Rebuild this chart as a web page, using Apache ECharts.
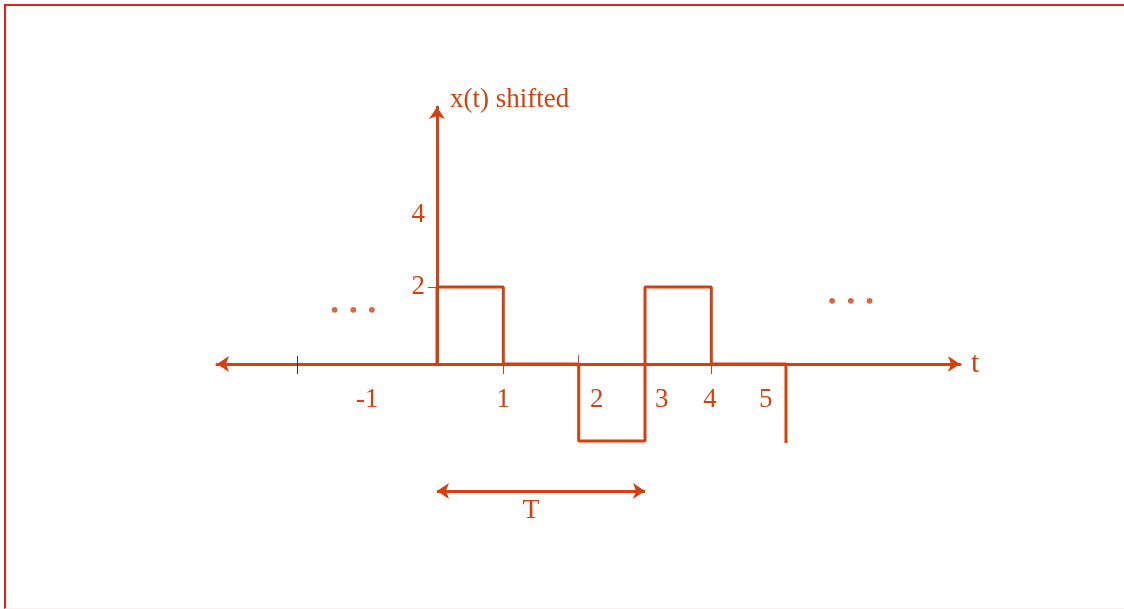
<!DOCTYPE html>
<html>
<head>
<meta charset="utf-8">
<script src="https://cdn.jsdelivr.net/npm/echarts@6/dist/echarts.min.js"></script>
<style>
html,body{margin:0;padding:0;background:#fff;}
#frame{position:absolute;left:4px;top:4px;width:1120px;height:605px;box-sizing:border-box;
  border-top:2px solid #f01818;border-left:2px solid #f01818;border-bottom:1px solid #fdeef0;}
#chart{position:absolute;left:0;top:0;width:1124px;height:609px;}
</style>
</head>
<body>
<div id="frame"></div>
<div id="chart"></div>
<script>
// signal x(t) shifted (t units, amplitude units)
const signalT = [0, 0, 0.95, 0.95, 2.03, 2.03, 2.98, 2.98, 3.93, 3.93, 5.0, 5.0];
const signalX = [0, 2, 2, 0, 0, -2, -2, 2, 2, 0, 0, -2.05];

// tick labels as drawn (label position on t axis, text)
const xLabelPos = [-1.0, 0.95, 2.29, 3.22, 3.91, 4.71];
const xLabelText = ['-1', '1', '2', '3', '4', '5'];
const yLabelPos = [2, 3.87];
const yLabelText = ['2', '4'];

// small tick marks
const xTicksBelow = [0.95, 3.93];
const xTicksAbove = [2.03];
const xTicksBlack = [-2.0];
const yTicks = [2];

// period arrow and the "..." marks
const periodT = [0, 2.98];
const periodY = -3.3;
const dotsPos = [[-1.2, 1.38], [5.93, 1.61]];

const C = '#d2410f';
const FONT = 'Liberation Serif';
const T_MIN = -3.152, T_MAX = 7.493;
const Y_TOP = 6.675;

let myChart = echarts.init(document.getElementById('chart'));

let tickLines = [];
xTicksAbove.forEach(t => tickLines.push([{coord: [t, 0]}, {coord: [t, 0.23]}]));
xTicksBlack.forEach(t => tickLines.push([{coord: [t, -0.26], lineStyle: {color: '#333'}}, {coord: [t, 0.21]}]));

myChart.setOption({
  animation: false,
  grid: [
    // 0: plotting grid for the marks (full height, hidden axes)
    {left: 217, right: 164, top: 56, bottom: 14, outerBoundsMode: 'none'},
    // 1: t axis, bottom edge sits on x = 0
    {left: 217, right: 164, top: 107, bottom: 245, outerBoundsMode: 'none'},
    // 2: x(t) axis, left edge sits on t = 0
    {left: 437, right: 600, top: 107, bottom: 245, outerBoundsMode: 'none'}
  ],
  xAxis: [{
    type: 'value', gridIndex: 0, min: T_MIN, max: T_MAX, show: false
  }, {
    type: 'value', gridIndex: 1, min: T_MIN, max: T_MAX, position: 'bottom',
    axisLine: {show: true, onZero: false, symbol: ['arrow', 'arrow'], symbolSize: [12, 12],
      lineStyle: {color: C, width: 3}},
    axisTick: {show: true, customValues: xTicksBelow, length: 10, lineStyle: {color: C, width: 1}},
    axisLabel: {show: true, customValues: xLabelPos, margin: 22, color: C, fontSize: 27, fontFamily: FONT,
      formatter: v => xLabelText[xLabelPos.indexOf(v)]},
    splitLine: {show: false},
    name: 't', nameLocation: 'end', nameGap: 11,
    nameTextStyle: {color: C, fontSize: 30, fontFamily: FONT, verticalAlign: 'middle', padding: [0, 0, 8, 0]}
  }, {
    type: 'value', gridIndex: 2, min: 0, max: 1, show: false
  }],
  yAxis: [{
    type: 'value', gridIndex: 0, min: -6, max: 8, show: false
  }, {
    type: 'value', gridIndex: 1, min: 0, max: Y_TOP, show: false
  }, {
    type: 'value', gridIndex: 2, min: 0, max: Y_TOP, position: 'left',
    axisLine: {show: true, onZero: false, symbol: ['none', 'arrow'], symbolSize: [12, 12],
      lineStyle: {color: C, width: 3}},
    axisTick: {show: true, customValues: yTicks, length: 9, lineStyle: {color: C, width: 1}},
    axisLabel: {show: true, customValues: yLabelPos, margin: 12, color: C, fontSize: 27, fontFamily: FONT,
      formatter: v => yLabelText[yLabelPos.indexOf(v)]},
    splitLine: {show: false},
    name: 'x(t) shifted', nameLocation: 'end', nameGap: 7,
    nameTextStyle: {color: C, fontSize: 27, fontFamily: FONT, align: 'left', verticalAlign: 'middle',
      padding: [0, 0, 0, 13]}
  }],
  series: [{
    name: 'x(t)', type: 'line', xAxisIndex: 0, yAxisIndex: 0,
    data: signalT.map((t, i) => [t, signalX[i]]),
    symbol: 'none', lineStyle: {color: C, width: 3}, z: 3
  }, {
    name: 'marks', type: 'line', xAxisIndex: 0, yAxisIndex: 0, data: [],
    markLine: {
      silent: true, symbol: 'none', label: {show: false},
      lineStyle: {color: C, width: 1, type: 'solid'},
      data: tickLines
    }
  }, {
    name: 'period', type: 'line', xAxisIndex: 0, yAxisIndex: 0, data: [],
    markLine: {
      silent: true, symbol: ['arrow', 'arrow'], symbolSize: [12, 12],
      lineStyle: {color: C, width: 3, type: 'solid'},
      label: {show: true, position: 'insideMiddleBottom', distance: 6, offset: [-10, 0], formatter: 'T',
        color: C, fontSize: 28, fontFamily: FONT},
      data: [[{coord: [periodT[0], periodY]}, {coord: [periodT[1], periodY]}]]
    }
  }, {
    name: 'dots', type: 'scatter', xAxisIndex: 0, yAxisIndex: 0,
    data: dotsPos, symbolSize: 1, itemStyle: {color: 'rgba(0,0,0,0)'},
    label: {show: true, position: 'inside', formatter: '•  •  •', color: C, fontSize: 22,
      fontWeight: 'bold', fontFamily: FONT}
  }]
});
</script>
</body>
</html>
